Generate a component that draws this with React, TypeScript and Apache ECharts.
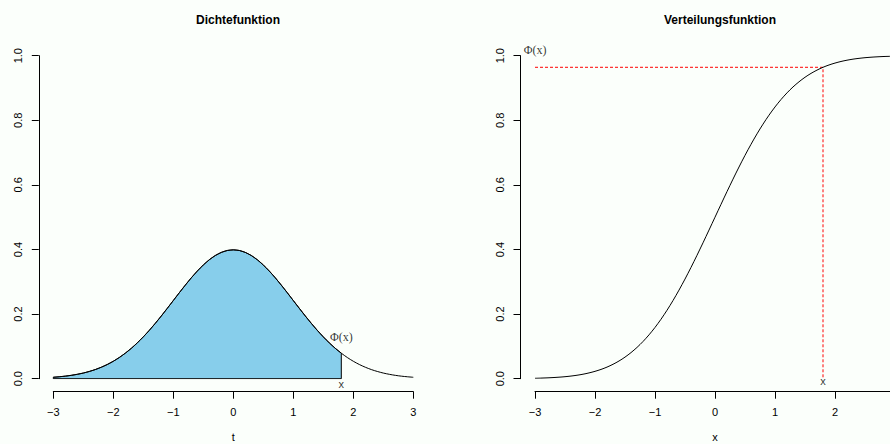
import React, { useEffect, useRef } from "react";
import * as echarts from "echarts";

const tGrid = [
  -3.0, -2.9, -2.8, -2.7, -2.6, -2.5, -2.4, -2.3, -2.2, -2.1,
  -2.0, -1.9, -1.8, -1.7, -1.6, -1.5, -1.4, -1.3, -1.2, -1.1,
  -1.0, -0.9, -0.8, -0.7, -0.6, -0.5, -0.4, -0.3, -0.2, -0.1,
  0.0, 0.1, 0.2, 0.3, 0.4, 0.5, 0.6, 0.7, 0.8, 0.9,
  1.0, 1.1, 1.2, 1.3, 1.4, 1.5, 1.6, 1.7, 1.8, 1.9,
  2.0, 2.1, 2.2, 2.3, 2.4, 2.5, 2.6, 2.7, 2.8, 2.9, 3.0,
];

const densityValues = [
  0.0044, 0.006, 0.0079, 0.0104, 0.0136, 0.0175, 0.0224, 0.0283, 0.0355, 0.044,
  0.054, 0.0656, 0.079, 0.094, 0.1109, 0.1295, 0.1497, 0.1714, 0.1942, 0.2179,
  0.242, 0.2661, 0.2897, 0.3123, 0.3332, 0.3521, 0.3683, 0.3814, 0.391, 0.397,
  0.3989, 0.397, 0.391, 0.3814, 0.3683, 0.3521, 0.3332, 0.3123, 0.2897, 0.2661,
  0.242, 0.2179, 0.1942, 0.1714, 0.1497, 0.1295, 0.1109, 0.094, 0.079, 0.0656,
  0.054, 0.044, 0.0355, 0.0283, 0.0224, 0.0175, 0.0136, 0.0104, 0.0079, 0.006, 0.0044,
];

const cdfValues = [
  0.0013, 0.0019, 0.0026, 0.0035, 0.0047, 0.0062, 0.0082, 0.0107, 0.0139, 0.0179,
  0.0228, 0.0287, 0.0359, 0.0446, 0.0548, 0.0668, 0.0808, 0.0968, 0.1151, 0.1357,
  0.1587, 0.1841, 0.2119, 0.242, 0.2743, 0.3085, 0.3446, 0.3821, 0.4207, 0.4602,
  0.5, 0.5398, 0.5793, 0.6179, 0.6554, 0.6915, 0.7257, 0.758, 0.7881, 0.8159,
  0.8413, 0.8643, 0.8849, 0.9032, 0.9192, 0.9332, 0.9452, 0.9554, 0.9641, 0.9713,
  0.9772, 0.9821, 0.9861, 0.9893, 0.9918, 0.9938, 0.9953, 0.9965, 0.9974, 0.9981, 0.9987,
];

const xMark = 1.8;
const phiAtMark = 0.9641;
const xTicks = [-3, -2, -1, 0, 1, 2, 3];
const yTicks = [0, 0.2, 0.4, 0.6, 0.8, 1.0];
const titles = ["Dichtefunktion", "Verteilungsfunktion"];
const axisNames = ["t", "x"];
const phiLabelLeft = [1.8, 0.13];
const xLabelLeft = [1.8, -0.017];
const phiLabelRight = [-3, 1.018];
const xLabelRight = [1.8, -0.008];

const SANS = "Liberation Sans, Arial, Helvetica, sans-serif";
const SERIF = "Liberation Serif, Times New Roman, serif";

const fmt = (v: number, dec: number) =>
  (dec ? v.toFixed(dec) : String(v)).replace("-", "\u2212");

export default function App() {
  const ref = useRef<HTMLDivElement>(null);

  useEffect(() => {
    document.body.style.margin = "0";
    if (!ref.current) return;
    const chart = echarts.init(ref.current, null, { renderer: "svg" });

    const densityPairs = tGrid.map((t, i) => [t, densityValues[i]]);
    const cdfPairs = tGrid.map((t, i) => [t, cdfValues[i]]);
    const shaded = [
      [tGrid[0], 0],
      ...densityPairs.filter((p) => p[0] <= xMark),
      [xMark, 0],
      [tGrid[0], 0],
    ];

    const mkX = (gi: number) => ({
      type: "value",
      gridIndex: gi,
      min: xTicks[0],
      max: xTicks[xTicks.length - 1],
      interval: 1,
      offset: 13,
      name: axisNames[gi],
      nameLocation: "middle",
      nameGap: 40,
      nameTextStyle: { fontFamily: SANS, fontSize: 11, color: "#000" },
      axisLine: { show: true, onZero: false, lineStyle: { color: "#000", width: 1 } },
      axisTick: { show: true, length: 7, lineStyle: { color: "#000" } },
      axisLabel: {
        margin: 15,
        fontFamily: SANS,
        fontSize: 11,
        color: "#000",
        formatter: (v: number) => fmt(v, 0),
        showMinLabel: true,
        showMaxLabel: gi === 0,
      },
      splitLine: { show: false },
    });
    const mkY = (gi: number) => ({
      type: "value",
      gridIndex: gi,
      min: yTicks[0],
      max: yTicks[yTicks.length - 1],
      interval: 0.2,
      offset: 14.5,
      axisLine: { show: true, onZero: false, lineStyle: { color: "#000", width: 1 } },
      axisTick: { show: true, length: 7, lineStyle: { color: "#000" } },
      axisLabel: {
        margin: 15,
        rotate: 90,
        fontFamily: SANS,
        fontSize: 11,
        color: "#000",
        formatter: (v: number) => fmt(v, 1),
      },
      splitLine: { show: false },
    });

    const labelSeries = (gi: number, pos: number[], text: string, family: string, size: number) => ({
      type: "scatter",
      xAxisIndex: gi,
      yAxisIndex: gi,
      data: [pos],
      symbolSize: 1,
      clip: false,
      itemStyle: { color: "rgba(0,0,0,0)" },
      silent: true,
      label: {
        show: true,
        position: "inside",
        formatter: text,
        fontFamily: family,
        fontSize: size,
        color: "#000",
      },
      z: 5,
    });

    chart.setOption({
      animation: false,
      backgroundColor: "#fbfffb",
      title: [
        {
          text: titles[0],
          left: 233,
          top: 9,
          textAlign: "center",
          textStyle: { fontFamily: SANS, fontSize: 12, fontWeight: "bold", color: "#000" },
        },
        {
          text: titles[1],
          left: 715,
          top: 9,
          textAlign: "center",
          textStyle: { fontFamily: SANS, fontSize: 12, fontWeight: "bold", color: "#000" },
        },
      ],
      grid: [
        { left: 53.3, top: 55.7, width: 360, height: 323, outerBoundsMode: "none", containLabel: false },
        { left: 535, top: 55.7, width: 360, height: 323, outerBoundsMode: "none", containLabel: false },
      ],
      xAxis: [mkX(0), mkX(1)],
      yAxis: [mkY(0), mkY(1)],
      series: [
        {
          type: "line",
          xAxisIndex: 0,
          yAxisIndex: 0,
          data: shaded,
          showSymbol: false,
          symbol: "none",
          lineStyle: { color: "#000", width: 1 },
          areaStyle: { color: "#87CEEB", opacity: 1 },
          z: 2,
        },
        {
          type: "line",
          xAxisIndex: 0,
          yAxisIndex: 0,
          data: densityPairs,
          smooth: 0.3,
          symbol: "none",
          lineStyle: { color: "#000", width: 1 },
          z: 3,
        },
        {
          type: "line",
          xAxisIndex: 1,
          yAxisIndex: 1,
          data: cdfPairs,
          smooth: 0.3,
          symbol: "none",
          lineStyle: { color: "#000", width: 1 },
          z: 3,
        },
        {
          type: "line",
          xAxisIndex: 1,
          yAxisIndex: 1,
          data: [
            [tGrid[0], phiAtMark],
            [xMark, phiAtMark],
            [xMark, 0],
          ],
          symbol: "none",
          lineStyle: { color: "#ff0000", width: 1, type: [3, 2] },
          z: 2,
        },
        labelSeries(0, phiLabelLeft, "\u03A6(x)", SERIF, 12),
        labelSeries(0, xLabelLeft, "x", SANS, 11),
        labelSeries(1, phiLabelRight, "\u03A6(x)", SERIF, 12),
        labelSeries(1, xLabelRight, "x", SANS, 11),
      ],
    });

    return () => chart.dispose();
  }, []);

  return <div ref={ref} style={{ width: 890, height: 444 }} />;
}
